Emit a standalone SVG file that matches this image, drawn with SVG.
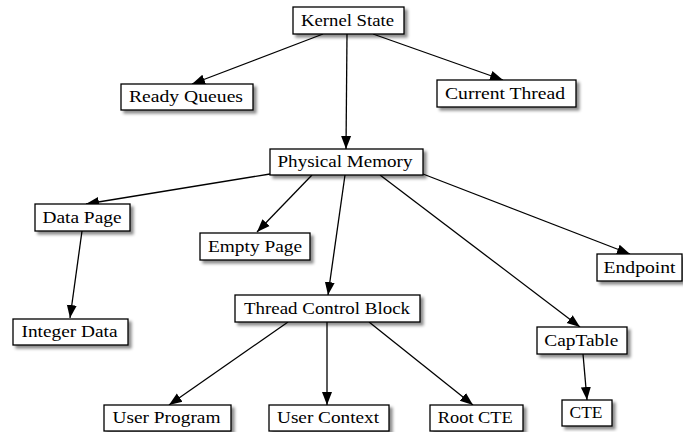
<svg xmlns="http://www.w3.org/2000/svg" width="683" height="432" viewBox="0 0 683 432">
<style>
.box{fill:#fff;stroke:#000;stroke-width:1.3;filter:url(#sh)}
.lbl{font-family:"Liberation Serif","Times New Roman",serif;font-size:17px;fill:#000;text-anchor:middle}
.edge{stroke:#000;stroke-width:1.3;fill:none;marker-end:url(#ah)}
</style>
<defs>
<filter id="sh" x="-20%" y="-30%" width="150%" height="180%">
<feDropShadow dx="3" dy="3" stdDeviation="1.4" flood-color="#000" flood-opacity="0.45"/>
</filter>
<marker id="ah" markerUnits="userSpaceOnUse" markerWidth="14" markerHeight="12" viewBox="0 0 14 12" refX="13" refY="6" orient="auto">
<path d="M0,1 L13,6 L0,11 Z" fill="#000"/>
</marker>
</defs>
<rect width="683" height="432" fill="#fff"/>
<g id="connectors">
<line class="edge" x1="323" y1="34" x2="192" y2="84"/>
<line class="edge" x1="373" y1="34" x2="503" y2="80"/>
<line class="edge" x1="347" y1="34" x2="346" y2="149"/>
<line class="edge" x1="270" y1="174" x2="86" y2="204"/>
<line class="edge" x1="312" y1="175" x2="257" y2="232"/>
<line class="edge" x1="345" y1="175" x2="328" y2="295"/>
<line class="edge" x1="380" y1="175" x2="580" y2="327"/>
<line class="edge" x1="423" y1="174" x2="630" y2="254"/>
<line class="edge" x1="82" y1="231" x2="70" y2="318"/>
<line class="edge" x1="288" y1="322" x2="169" y2="405"/>
<line class="edge" x1="327" y1="322" x2="327" y2="405"/>
<line class="edge" x1="369" y1="322" x2="473" y2="405"/>
<line class="edge" x1="583" y1="354" x2="587" y2="400"/>
</g>
<g id="kernel-state"><rect class="box" x="293" y="7" width="111" height="27"/><text class="lbl" x="347.5" y="26" textLength="93" lengthAdjust="spacingAndGlyphs">Kernel State</text></g>
<g id="ready-queues"><rect class="box" x="121" y="84" width="132" height="26"/><text class="lbl" x="186" y="102" textLength="114" lengthAdjust="spacingAndGlyphs">Ready Queues</text></g>
<g id="current-thread"><rect class="box" x="437" y="80" width="139" height="27"/><text class="lbl" x="505" y="99" textLength="120" lengthAdjust="spacingAndGlyphs">Current Thread</text></g>
<g id="physical-memory"><rect class="box" x="270" y="149" width="153" height="26"/><text class="lbl" x="345" y="167" textLength="135" lengthAdjust="spacingAndGlyphs">Physical Memory</text></g>
<g id="data-page"><rect class="box" x="35" y="204" width="95" height="27"/><text class="lbl" x="82" y="223" textLength="79" lengthAdjust="spacingAndGlyphs">Data Page</text></g>
<g id="empty-page"><rect class="box" x="200" y="233" width="110" height="27"/><text class="lbl" x="255" y="252" textLength="94" lengthAdjust="spacingAndGlyphs">Empty Page</text></g>
<g id="endpoint"><rect class="box" x="597" y="254" width="85" height="27"/><text class="lbl" x="639.5" y="273" textLength="72" lengthAdjust="spacingAndGlyphs">Endpoint</text></g>
<g id="thread-control-block"><rect class="box" x="235" y="295" width="185" height="27"/><text class="lbl" x="327" y="314" textLength="166" lengthAdjust="spacingAndGlyphs">Thread Control Block</text></g>
<g id="integer-data"><rect class="box" x="13" y="319" width="115" height="26"/><text class="lbl" x="69.5" y="337" textLength="96" lengthAdjust="spacingAndGlyphs">Integer Data</text></g>
<g id="captable"><rect class="box" x="537" y="327" width="90" height="27"/><text class="lbl" x="581.3" y="346" textLength="74" lengthAdjust="spacingAndGlyphs">CapTable</text></g>
<g id="user-program"><rect class="box" x="104" y="405" width="127" height="26"/><text class="lbl" x="166.5" y="423" textLength="108" lengthAdjust="spacingAndGlyphs">User Program</text></g>
<g id="user-context"><rect class="box" x="269" y="405" width="120" height="26"/><text class="lbl" x="328" y="423" textLength="102" lengthAdjust="spacingAndGlyphs">User Context</text></g>
<g id="root-cte"><rect class="box" x="430" y="405" width="93" height="26"/><text class="lbl" x="475.3" y="423" textLength="75" lengthAdjust="spacingAndGlyphs">Root CTE</text></g>
<g id="cte"><rect class="box" x="562" y="400" width="50" height="26"/><text class="lbl" x="586" y="418" textLength="33" lengthAdjust="spacingAndGlyphs">CTE</text></g>
</svg>
